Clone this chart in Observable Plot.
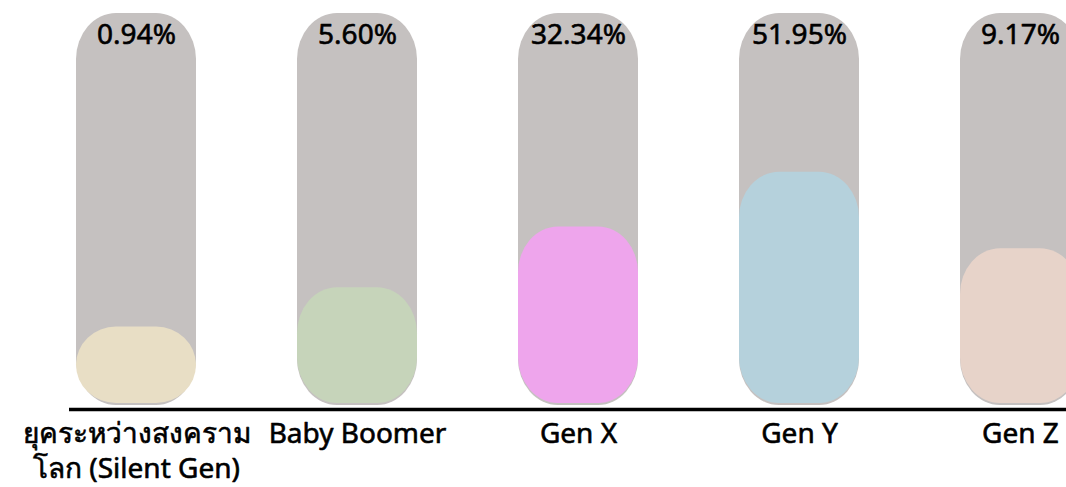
<!DOCTYPE html>
<html>
<head>
<meta charset="utf-8">
<script src="https://cdn.jsdelivr.net/npm/d3@7"></script>
<script src="https://cdn.jsdelivr.net/npm/@observablehq/plot@0.6"></script>
<style>
  html, body { margin: 0; padding: 0; background: #fff; overflow: hidden; }
</style>
</head>
<body>
<div id="chart"></div>
<script>
const categories = ["ยุคระหว่างสงคราม\nโลก (Silent Gen)", "Baby Boomer", "Gen X", "Gen Y", "Gen Z"];
const shares = [0.94, 5.60, 32.34, 51.95, 9.17];
const shareLabels = ["0.94%", "5.60%", "32.34%", "51.95%", "9.17%"];
const fillLevels = [19.5, 29.5, 45, 59, 39.5]; // drawn fill height, % of capsule
const capsuleMax = [100, 100, 100, 100, 100];
const colors = ["#E8DEC5", "#C6D4BA", "#EEA5EC", "#B5D1DC", "#E7D3C9"];

const rows = categories.map((c, i) => ({
  cat: c, share: shares[i], label: shareLabels[i], fill: fillLevels[i], max: capsuleMax[i], color: colors[i]
}));

const font = "'Noto Sans', 'Open Sans', 'DejaVu Sans', sans-serif";

const chart = Plot.plot({
  width: 1066,
  height: 487,
  marginTop: 13,
  marginBottom: 82,
  marginLeft: 69,
  marginRight: 0,
  style: { fontFamily: font, overflow: "visible", background: "#fff" },
  x: { domain: categories, range: [-26.5, 1182.5], padding: 101.5 / 221.5, axis: null },
  y: { domain: [0, 100], axis: null },
  marks: [
    Plot.barY(rows, { x: "cat", y: "max", fill: "#C5C1C0", rx: 40, ry: 46 }),
    Plot.barY(rows, { x: "cat", y: "fill", fill: "color", rx: 40, ry: 46, dy: -2 }),
    Plot.ruleY([0], { stroke: "#000", strokeWidth: 3.5, dy: 4 }),
    Plot.text(rows, { x: "cat", text: "label", frameAnchor: "top", dy: 22, lineAnchor: "middle", fontSize: 28, fill: "#000", stroke: "#000", strokeWidth: 0.6 }),
    Plot.text(rows, { x: "cat", text: "cat", frameAnchor: "bottom", dy: 13, lineAnchor: "top", fontSize: 28, lineHeight: 1.25, fill: "#000", stroke: "#000", strokeWidth: 0.6 })
  ]
});
document.getElementById("chart").appendChild(chart);
</script>
</body>
</html>
